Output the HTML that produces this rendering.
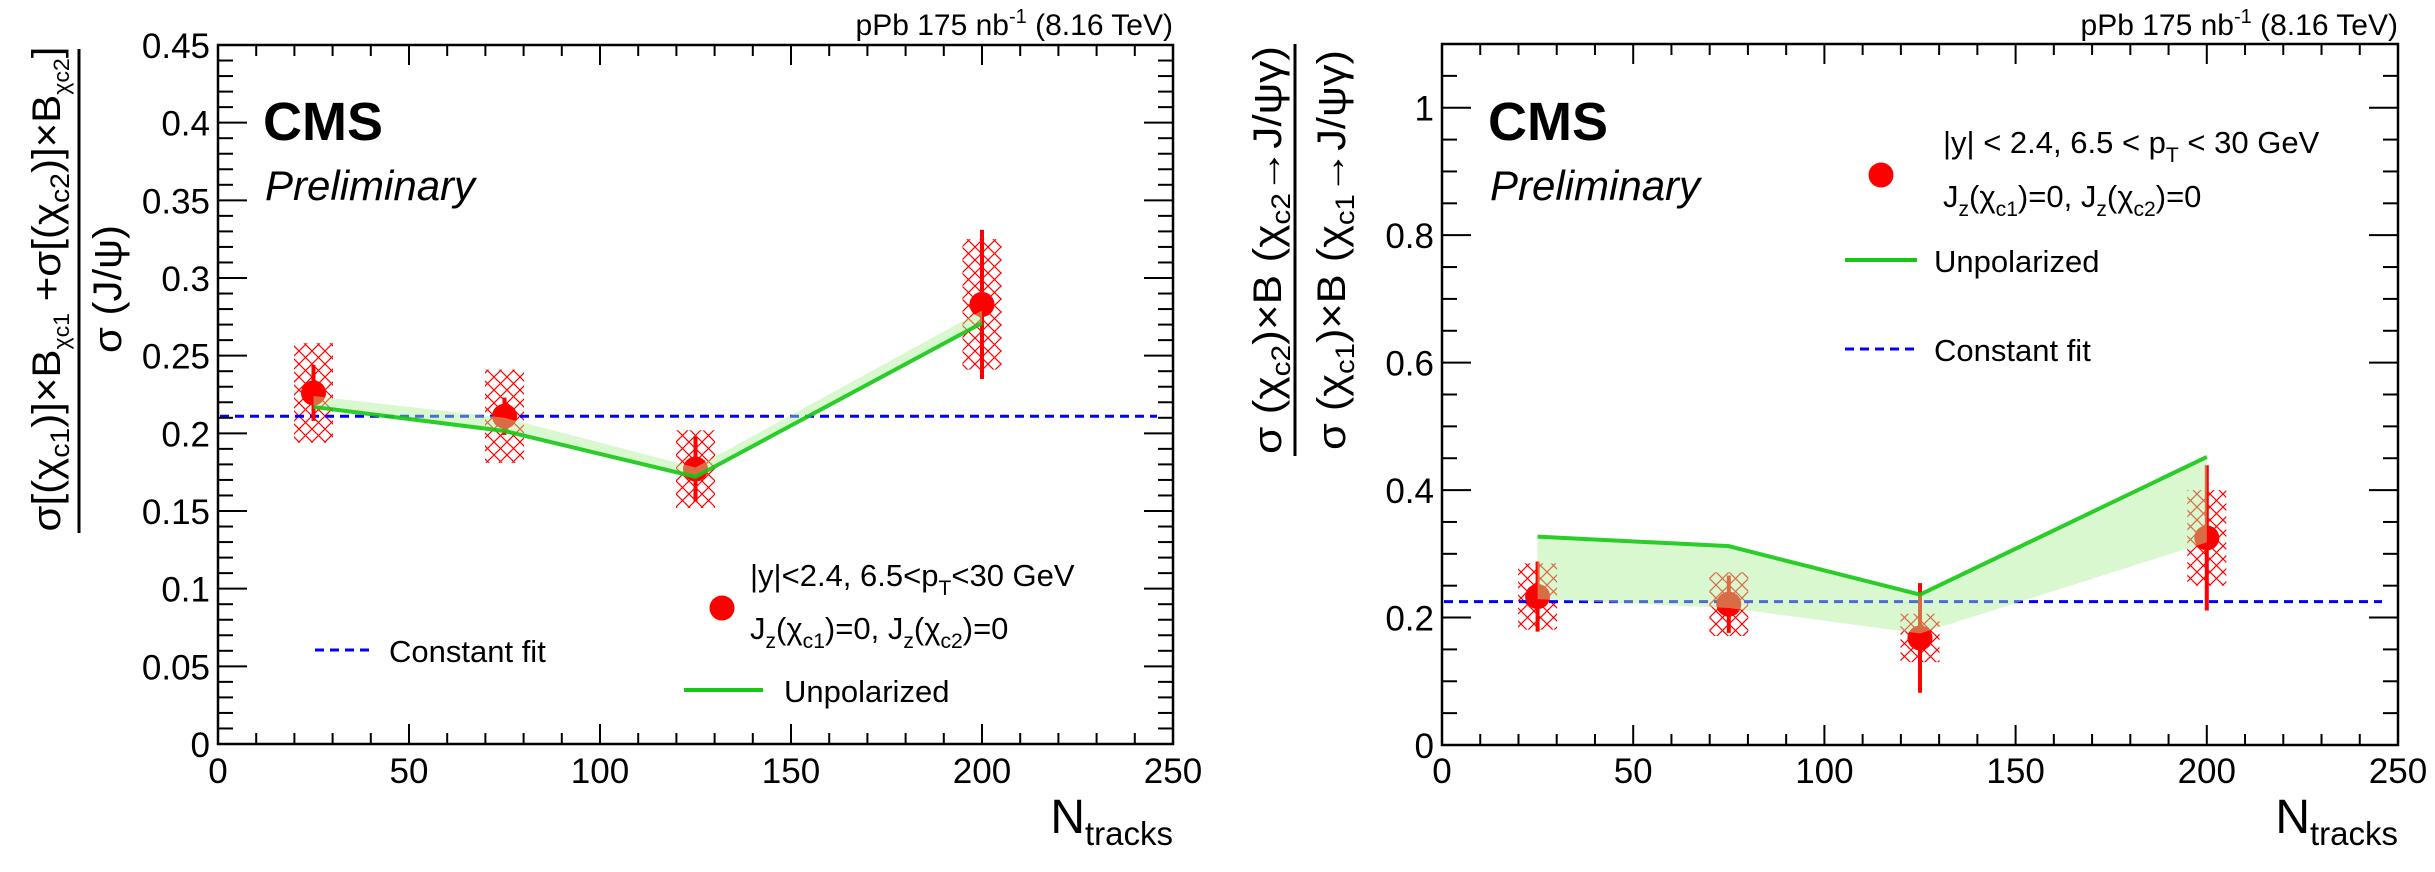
<!DOCTYPE html>
<html><head><meta charset="utf-8"><style>
html,body{margin:0;padding:0;background:#fff;}
svg{display:block;font-family:"Liberation Sans",sans-serif;}
</style></head><body>
<svg id="chart" width="2435" height="872" viewBox="0 0 2435 872" xmlns="http://www.w3.org/2000/svg">
<defs>
<pattern id="hatch" width="13" height="13" patternUnits="userSpaceOnUse">
<path d="M0,0 L13,13 M13,0 L0,13" stroke="#ff0000" stroke-width="1.2" fill="none"/>
</pattern>
</defs>
<g id="root"></g>
</svg>
<script>
// ---- Data ----
const categories = [25, 75, 125, 200];
// Left panel
const leftValues = [0.226, 0.211, 0.177, 0.283];
const leftStat = [0.018, 0.012, 0.021, 0.048];
const leftSys = [0.032, 0.030, 0.025, 0.042];
const leftUnpol = [0.217, 0.2015, 0.172, 0.271];
const leftBandEdge = [0.224, 0.210, 0.178, 0.279];
const leftConst = [0.211];
const leftYTicks = ["0", "0.05", "0.1", "0.15", "0.2", "0.25", "0.3", "0.35", "0.4", "0.45"];
// Right panel
const rightValues = [0.233, 0.221, 0.168, 0.325];
const rightStat = [0.055, 0.045, 0.086, 0.114];
const rightSys = [0.052, 0.050, 0.038, 0.075];
const rightUnpol = [0.327, 0.312, 0.236, 0.452];
const rightBandEdge = [0.229, 0.215, 0.175, 0.318];
const rightConst = [0.225];
const rightYTicks = ["0", "0.2", "0.4", "0.6", "0.8", "1"];
const xTicks = ["0", "50", "100", "150", "200", "250"];

const NS = "http://www.w3.org/2000/svg";
const root = document.getElementById('root');
function mk(tag, attrs, parent, text) {
  const e = document.createElementNS(NS, tag);
  for (const k in attrs) e.setAttribute(k, attrs[k]);
  if (text !== undefined) e.textContent = text;
  (parent || root).appendChild(e);
  return e;
}

function panel(cfg) {
  const g = mk('g', {});
  
  
  const X = v => cfg.x0 + (v / 250) * (cfg.x1 - cfg.x0);
  const Y = v => cfg.y0 - (v / cfg.ymax) * (cfg.y0 - cfg.y1);

  let pts = categories.map((c, i) => X(c) + ',' + Y(cfg.unpol[i]));
  pts = pts.concat(categories.slice().reverse().map((c, j) => {
    const i = categories.length - 1 - j; return X(c) + ',' + Y(cfg.band[i]);
  }));
  categories.forEach((c, i) => {
    const b = mk('rect', {x: X(c) - 19.5, y: Y(cfg.vals[i] + cfg.sys[i]), width: 39,
      height: Y(cfg.vals[i] - cfg.sys[i]) - Y(cfg.vals[i] + cfg.sys[i]), fill: 'url(#hatch)'}, g);
    
    
  });
  const cf = mk('line', {x1: cfg.x0 + 2, x2: cfg.x1 - 16, y1: Y(cfg.cst[0]), y2: Y(cfg.cst[0]),
    stroke: '#0000ff', 'stroke-width': 3, 'stroke-dasharray': '9,6'}, g);
  
  
  categories.forEach((c, i) => {
    const e = mk('line', {x1: X(c), x2: X(c), y1: Y(cfg.vals[i] + cfg.stat[i]), y2: Y(cfg.vals[i] - cfg.stat[i]),
      stroke: '#ff0000', 'stroke-width': 4}, g);
    
    
    const m = mk('circle', {cx: X(c), cy: Y(cfg.vals[i]), r: 12.5, fill: '#ff0000'}, g);
    
    
  });
  const band = mk('polygon', {points: pts.join(' '), fill: 'rgba(170,240,150,0.45)'}, g);
  
  
  const ln = mk('polyline', {points: categories.map((c, i) => X(c) + ',' + Y(cfg.unpol[i])).join(' '),
    fill: 'none', stroke: 'rgba(20,200,20,0.9)', 'stroke-width': 4}, g);
  
  

  const fr = mk('rect', {x: cfg.x0, y: cfg.y1, width: cfg.x1 - cfg.x0, height: cfg.y0 - cfg.y1,
    fill: 'none', stroke: '#000', 'stroke-width': 2.5}, g);
  
  
  for (let v = 0; v <= 250; v += 10) {
    const L = v % 50 === 0 ? 20 : 11;
    mk('line', {x1: X(v), x2: X(v), y1: cfg.y0, y2: cfg.y0 - L, stroke: '#000', 'stroke-width': 2}, g);
    mk('line', {x1: X(v), x2: X(v), y1: cfg.y1, y2: cfg.y1 + L, stroke: '#000', 'stroke-width': 2}, g);
  }
  xTicks.forEach(t => {
    const tl = mk('text', {x: X(+t), y: 783, 'font-size': 35, 'text-anchor': 'middle'}, g, t);
    
    
  });
  const nMinor = Math.round(cfg.ymax / cfg.minor);
  for (let k = 0; k <= nMinor; k++) {
    const v = k * cfg.minor;
    const major = Math.abs(v / cfg.major - Math.round(v / cfg.major)) < 1e-6;
    const L = major ? 29 : 15;
    mk('line', {x1: cfg.x0, x2: cfg.x0 + L, y1: Y(v), y2: Y(v), stroke: '#000', 'stroke-width': 2}, g);
    mk('line', {x1: cfg.x1, x2: cfg.x1 - L, y1: Y(v), y2: Y(v), stroke: '#000', 'stroke-width': 2}, g);
  }
  cfg.yticks.forEach(t => {
    const tl = mk('text', {x: cfg.x0 - 8, y: Y(+t) + 13, 'font-size': 35, 'text-anchor': 'end'}, g, t);
    
    
  });
  const xt = mk('text', {x: cfg.x1, y: 833, 'font-size': 48, 'text-anchor': 'end'}, g);
  
  
  mk('tspan', {}, xt, 'N');
  mk('tspan', {'font-size': 33, dy: 12}, xt, 'tracks');
  const lu = mk('text', {x: cfg.x1, y: 35, 'font-size': 30, 'text-anchor': 'end'}, g);
  
  
  mk('tspan', {}, lu, 'pPb 175 nb');
  mk('tspan', {'font-size': 20, dy: -12}, lu, '-1');
  mk('tspan', {dy: 12}, lu, ' (8.16 TeV)');
  const cms = mk('text', {x: cfg.cmsx, y: 140, 'font-size': 54, 'font-weight': 'bold'}, g, 'CMS');
  
  
  const pre = mk('text', {x: cfg.cmsx + 2, y: 200, 'font-size': 42, 'font-style': 'italic'}, g, 'Preliminary');
  
  
  return g;
}

const gl = panel({name: 'left-panel', x0: 218, x1: 1173, y0: 744, y1: 45, ymax: 0.45, major: 0.05, minor: 0.01,
  vals: leftValues, stat: leftStat, sys: leftSys, unpol: leftUnpol, band: leftBandEdge, cst: leftConst,
  yticks: leftYTicks, cmsx: 263});
const gr = panel({name: 'right-panel', x0: 1442, x1: 2398, y0: 745, y1: 44, ymax: 1.1, major: 0.2, minor: 0.05,
  vals: rightValues, stat: rightStat, sys: rightSys, unpol: rightUnpol, band: rightBandEdge, cst: rightConst,
  yticks: rightYTicks, cmsx: 1488});

function legend(g, o) {
  const lg = mk('g', {}, g);
  
  
  const mkr = mk('circle', {cx: o.mx, cy: o.my, r: 12.5, fill: '#ff0000'}, lg);
  
  
  const t1 = mk('text', {x: o.tx, y: o.l1, 'font-size': o.fs}, lg);
  
  
  mk('tspan', {}, t1, o.kin1);
  mk('tspan', {'font-size': o.fs * 0.68, dy: 9}, t1, 'T');
  mk('tspan', {dy: -9}, t1, o.kin2);
  const t2 = mk('text', {x: o.tx, y: o.l2, 'font-size': o.fs}, lg);
  
  
  const s = o.fs * 0.68;
  mk('tspan', {}, t2, 'J');
  mk('tspan', {'font-size': s, dy: 9}, t2, 'z');
  mk('tspan', {dy: -9}, t2, '(χ');
  mk('tspan', {'font-size': s, dy: 9}, t2, 'c1');
  mk('tspan', {dy: -9}, t2, ')=0, J');
  mk('tspan', {'font-size': s, dy: 9}, t2, 'z');
  mk('tspan', {dy: -9}, t2, '(χ');
  mk('tspan', {'font-size': s, dy: 9}, t2, 'c2');
  mk('tspan', {dy: -9}, t2, ')=0');
  const ul = mk('line', {x1: o.ux1, x2: o.ux2, y1: o.uy, y2: o.uy, stroke: '#14c814', 'stroke-width': 4}, lg);
  
  
  const ut = mk('text', {x: o.utx, y: o.uy + 12, 'font-size': o.fs}, lg, 'Unpolarized');
  
  
  const cl = mk('line', {x1: o.cx1, x2: o.cx2, y1: o.cy, y2: o.cy, stroke: '#0000ff', 'stroke-width': 3, 'stroke-dasharray': '9,6'}, lg);
  
  
  const ct = mk('text', {x: o.ctx, y: o.cy + 12, 'font-size': o.fs}, lg, 'Constant fit');
  
  
}
legend(gl, {mx: 722, my: 608, tx: 750, l1: 586, l2: 639, fs: 31, kin1: '|y|<2.4, 6.5<p', kin2: '<30 GeV',
  ux1: 684, ux2: 763, uy: 690, utx: 784, cx1: 315, cx2: 372, cy: 650, ctx: 389});
legend(gr, {mx: 1881, my: 175, tx: 1943, l1: 153, l2: 207, fs: 31, kin1: '|y| < 2.4, 6.5 < p', kin2: ' < 30 GeV',
  ux1: 1845, ux2: 1917, uy: 260, utx: 1934, cx1: 1845, cx2: 1917, cy: 349, ctx: 1934});

function ytitle(g, x, cyy, len, build, name) {
  const t = mk('text', {x: 0, y: 0, 'font-size': 40, 'text-anchor': 'middle',
    transform: 'translate(' + x + ',' + cyy + ') rotate(-90)', textLength: len, lengthAdjust: 'spacingAndGlyphs'}, g);
  
  
  build(t);
}
ytitle(gl, 60, 289, 485, t => {
  mk('tspan', {}, t, 'σ[(χ'); mk('tspan', {'font-size': 27, dy: 9}, t, 'c1'); mk('tspan', {dy: -9}, t, ')]×B');
  mk('tspan', {'font-size': 22, dy: 9}, t, 'χc1'); mk('tspan', {dy: -9}, t, ' +σ[(χ');
  mk('tspan', {'font-size': 27, dy: 9}, t, 'c2'); mk('tspan', {dy: -9}, t, ')]×B');
  mk('tspan', {'font-size': 22, dy: 9}, t, 'χc2'); mk('tspan', {dy: -9}, t, ']');
}, 'y-axis-title-numerator');
mk('line', {x1: 79, x2: 79, y1: 49, y2: 533, stroke: '#000', 'stroke-width': 3}, gl);
ytitle(gl, 121, 289, 128, t => { t.textContent = 'σ (J/ψ)'; }, 'y-axis-title-denominator');

ytitle(gr, 1281, 250, 408, t => {
  mk('tspan', {}, t, 'σ (χ'); mk('tspan', {'font-size': 27, dy: 9}, t, 'c2'); mk('tspan', {dy: -9}, t, ')×B (χ');
  mk('tspan', {'font-size': 27, dy: 9}, t, 'c2'); mk('tspan', {dy: -9}, t, '→J/ψγ)');
}, 'y-axis-title-numerator');
mk('line', {x1: 1295, x2: 1295, y1: 44, y2: 456, stroke: '#000', 'stroke-width': 3}, gr);
ytitle(gr, 1345, 250, 400, t => {
  mk('tspan', {}, t, 'σ (χ'); mk('tspan', {'font-size': 27, dy: 9}, t, 'c1'); mk('tspan', {dy: -9}, t, ')×B (χ');
  mk('tspan', {'font-size': 27, dy: 9}, t, 'c1'); mk('tspan', {dy: -9}, t, '→J/ψγ)');
}, 'y-axis-title-denominator');
</script>
</body></html>
